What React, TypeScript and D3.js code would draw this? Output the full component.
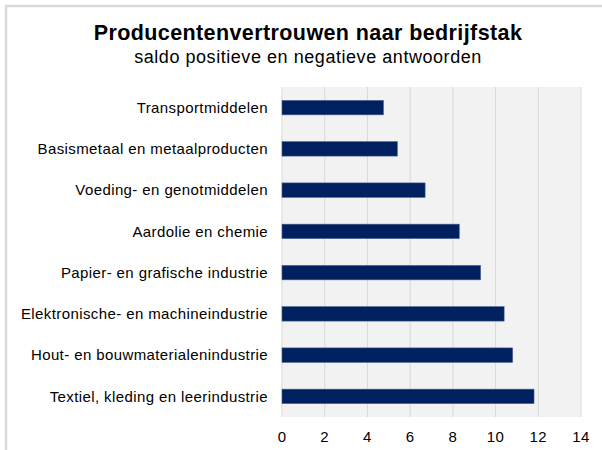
import React, { useEffect, useRef } from "react";
import * as d3 from "d3";

const categories = [
  "Transportmiddelen",
  "Basismetaal en metaalproducten",
  "Voeding- en genotmiddelen",
  "Aardolie en chemie",
  "Papier- en grafische industrie",
  "Elektronische- en machineindustrie",
  "Hout- en bouwmaterialenindustrie",
  "Textiel, kleding en leerindustrie",
];
const values = [4.75, 5.4, 6.7, 8.3, 9.3, 10.4, 10.8, 11.8];
const xTicks = [0, 2, 4, 6, 8, 10, 12, 14];

const title = "Producentenvertrouwen naar bedrijfstak";
const subtitle = "saldo positieve en negatieve antwoorden";

const W = 602;
const H = 450;
const font = "Arial, 'Liberation Sans', sans-serif";

function App() {
  const ref = useRef<SVGSVGElement>(null);

  useEffect(() => {
    const svg = d3.select(ref.current);
    svg.selectAll("*").remove();

    const plot = { left: 282, right: 581, top: 87, bottom: 417 };

    const x = d3.scaleLinear().domain([0, 14]).range([plot.left, plot.right]);
    const y = d3
      .scaleBand()
      .domain(categories)
      .range([plot.top, plot.bottom])
      .paddingInner(0.65)
      .paddingOuter(0.325);

    // outer frame (only top and left edges are visible)
    svg.append("rect")
      .attr("x", 6)
      .attr("y", 6)
      .attr("width", W + 10)
      .attr("height", H + 10)
      .attr("fill", "#fff")
      .attr("stroke", "#d9d9d9")
      .attr("stroke-width", 2.5);

    svg.append("text")
      .attr("x", 308)
      .attr("y", 40)
      .attr("text-anchor", "middle")
      .style("font-family", font)
      .style("font-size", "21.5px")
      .style("letter-spacing", "0.4px")
      .style("font-weight", "bold")
      .attr("fill", "#000")
      .text(title);

    svg.append("text")
      .attr("x", 308)
      .attr("y", 63)
      .attr("text-anchor", "middle")
      .style("font-family", font)
      .style("font-size", "18px")
      .style("letter-spacing", "0.55px")
      .attr("fill", "#000")
      .text(subtitle);

    // plot background + gridlines
    svg.append("rect")
      .attr("x", plot.left)
      .attr("y", plot.top)
      .attr("width", plot.right - plot.left)
      .attr("height", plot.bottom - plot.top)
      .attr("fill", "#f2f2f2");

    svg.append("g")
      .selectAll("line")
      .data(xTicks)
      .join("line")
      .attr("x1", (d) => x(d))
      .attr("x2", (d) => x(d))
      .attr("y1", plot.top)
      .attr("y2", plot.bottom)
      .attr("stroke", "#d9d9d9")
      .attr("stroke-width", 1);

    svg.append("g")
      .selectAll("rect")
      .data(values)
      .join("rect")
      .attr("x", x(0))
      .attr("y", (d, i) => y(categories[i])!)
      .attr("width", (d) => x(d) - x(0))
      .attr("height", y.bandwidth())
      .attr("fill", "#002060")
      .attr("stroke", "#4a5f8f")
      .attr("stroke-width", 0.6);

    svg.append("g")
      .selectAll("text")
      .data(categories)
      .join("text")
      .attr("x", 268)
      .attr("y", (d) => y(d)! + y.bandwidth() / 2)
      .attr("dy", "0.35em")
      .attr("text-anchor", "end")
      .style("font-family", font)
      .style("font-size", "15px")
      .style("letter-spacing", "0.4px")
      .attr("fill", "#000")
      .text((d) => d);

    svg.append("g")
      .selectAll("text")
      .data(xTicks)
      .join("text")
      .attr("x", (d) => x(d))
      .attr("y", 442)
      .attr("text-anchor", "middle")
      .style("font-family", font)
      .style("font-size", "15px")
      .style("letter-spacing", "0.4px")
      .attr("fill", "#000")
      .text((d) => d);
  }, []);

  return (
    <svg
      ref={ref}
      width={W}
      height={H}
      style={{ position: "absolute", left: 0, top: 0, background: "#fff" }}
    />
  );
}

export default App;
